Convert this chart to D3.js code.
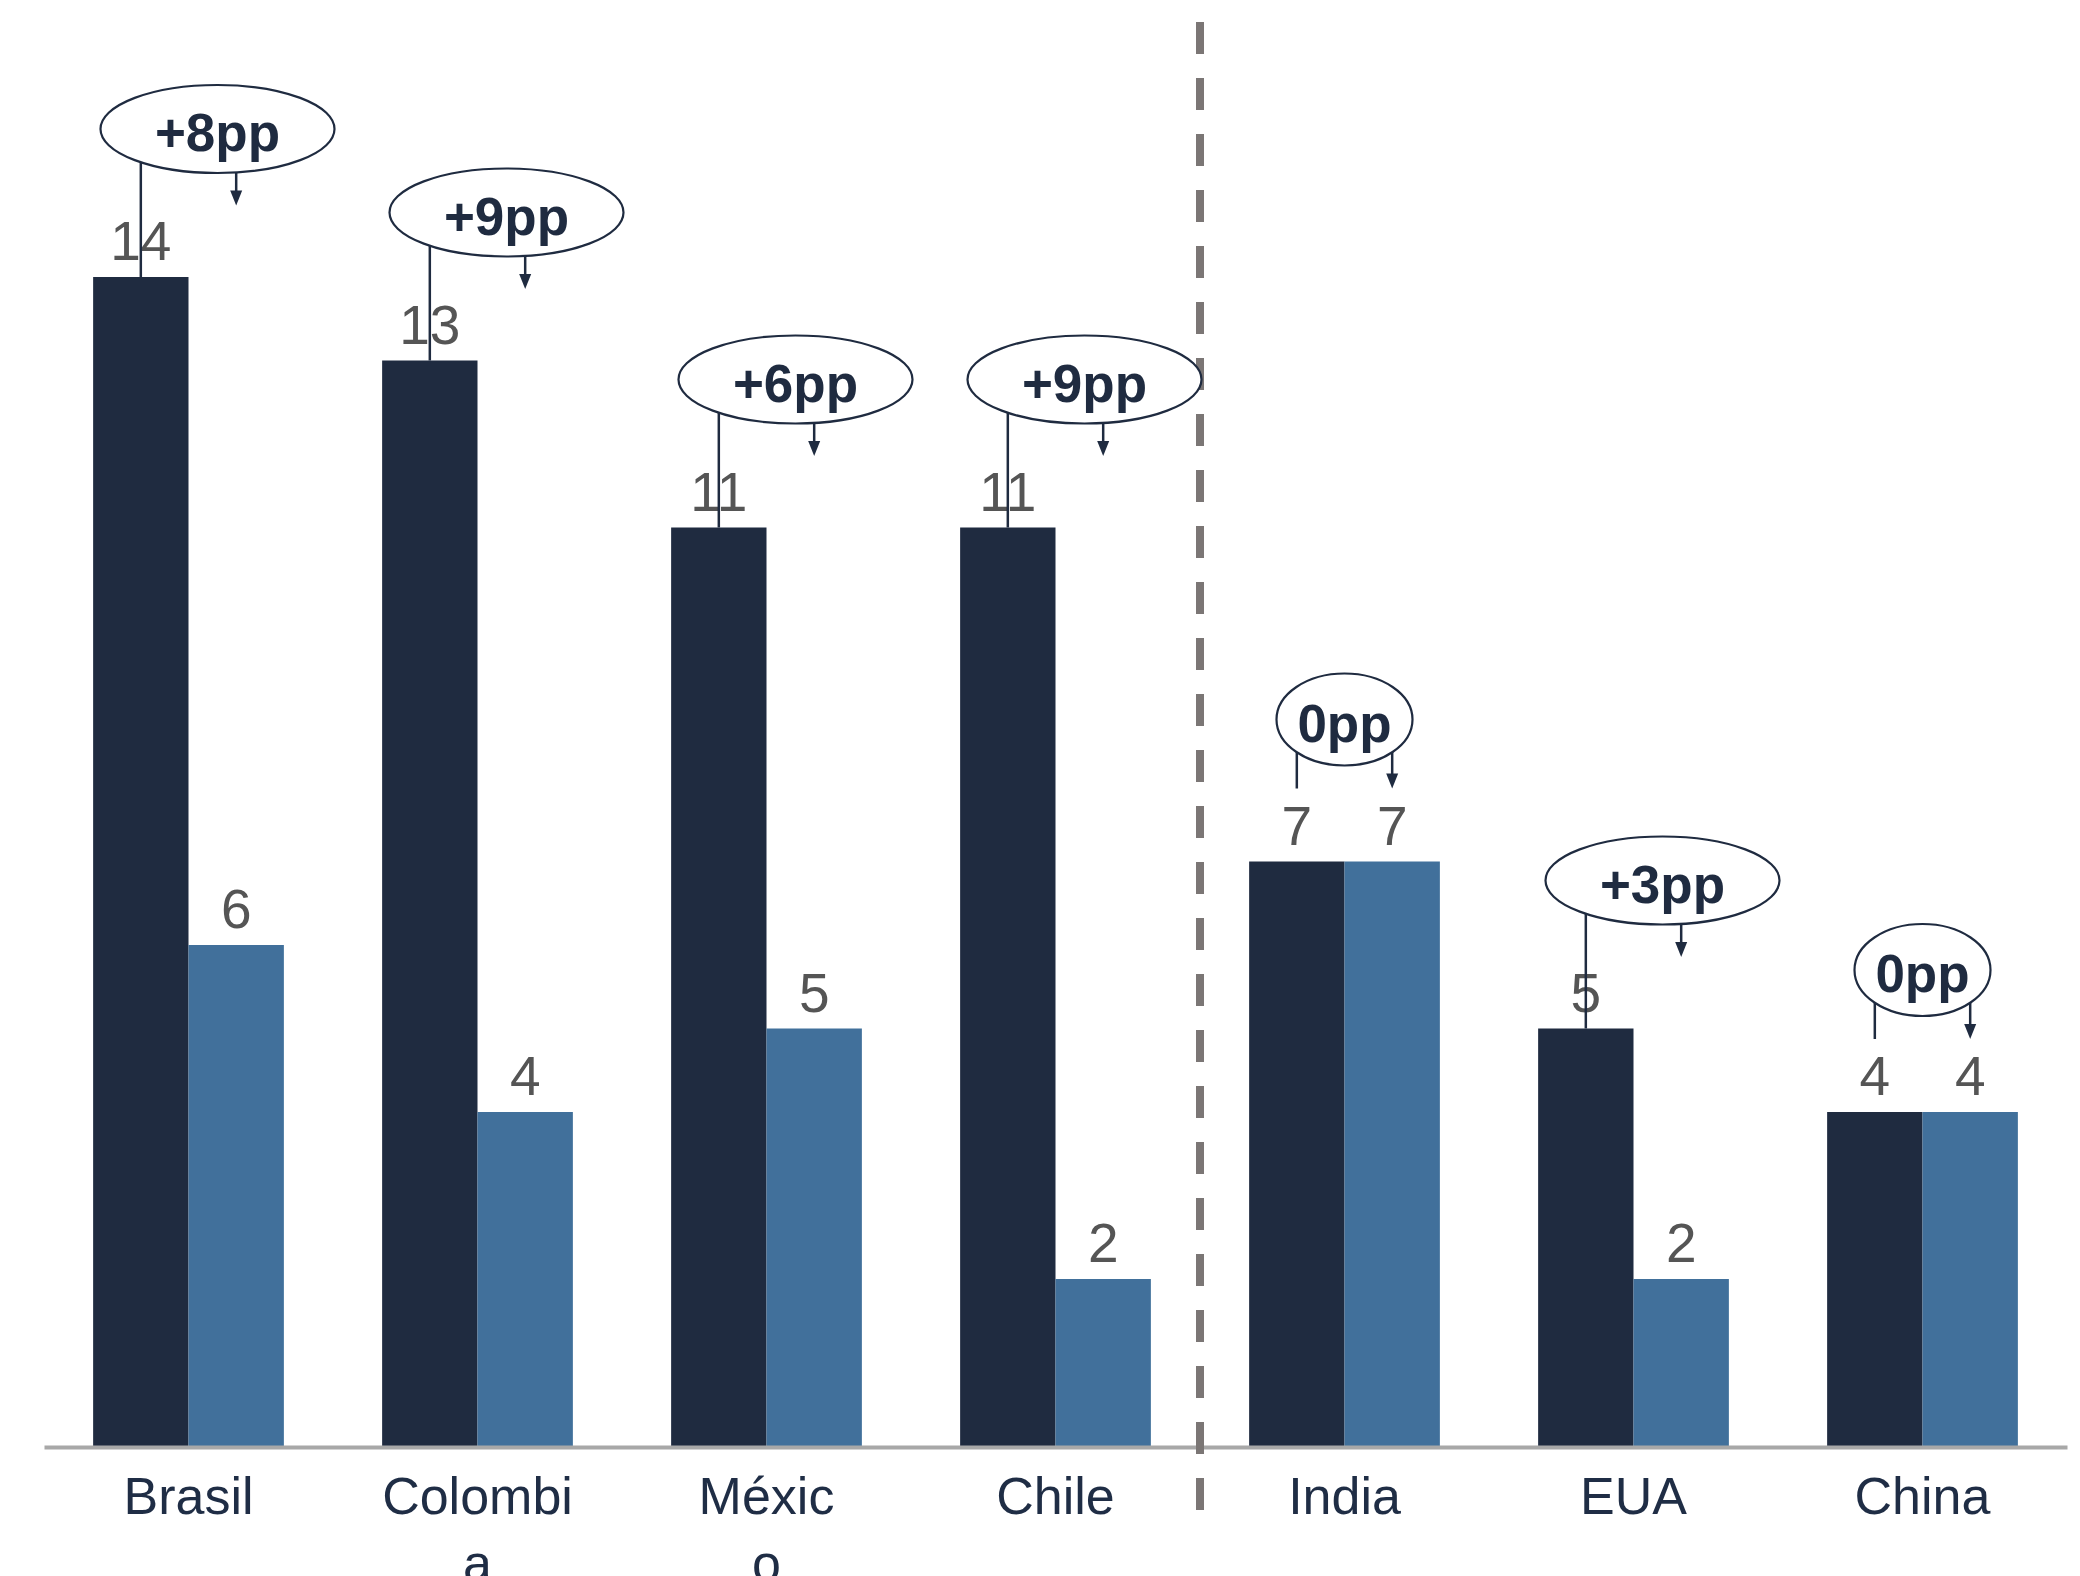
<!DOCTYPE html>
<html>
<head>
<meta charset="utf-8">
<script src="https://cdn.jsdelivr.net/npm/d3@7"></script>
<style>
  html, body { margin: 0; padding: 0; background: #ffffff; }
  svg { display: block; }
  text { font-family: "Liberation Sans", Arial, Helvetica, sans-serif; }
</style>
</head>
<body>
<div id="chart"></div>
<script>
// ---- Data ----
const categories = ["Brasil", "Colombia", "México", "Chile", "India", "EUA", "China"];
const tickLabels = [["Brasil"], ["Colombi", "a"], ["Méxic", "o"], ["Chile"], ["India"], ["EUA"], ["China"]];
const seriesDark = [14, 13, 11, 11, 7, 5, 4];
const seriesLight = [6, 4, 5, 2, 7, 2, 4];
const diffLabels = ["+8pp", "+9pp", "+6pp", "+9pp", "0pp", "+3pp", "0pp"];
const dividerBefore = "India";

// ---- Layout ----
const W = 2080, H = 1576;
const colDark = "#1f2b40", colLight = "#41709b", navy = "#1f2b40";

const svg = d3.select("#chart").append("svg")
  .attr("width", W).attr("height", H).attr("viewBox", `0 0 ${W} ${H}`);

const x = d3.scaleBand().domain(categories).range([44, 2067])
  .paddingInner(0.34).paddingOuter(0.17);
const inner = d3.scaleBand().domain(["dark", "light"]).range([0, x.bandwidth()]);
const y = d3.scaleLinear().domain([0, d3.max(seriesDark)]).range([1446, 277]);

const rows = categories.map((c, i) => ({ c, i, dark: seriesDark[i], light: seriesLight[i], label: diffLabels[i] }));

// Bars
const g = svg.append("g");
rows.forEach(r => {
  [["dark", r.dark, colDark], ["light", r.light, colLight]].forEach(([k, v, col]) => {
    g.append("rect")
      .attr("x", x(r.c) + inner(k))
      .attr("y", y(v))
      .attr("width", inner.bandwidth())
      .attr("height", y(0) - y(v))
      .attr("fill", col);
  });
});

// Value labels
rows.forEach(r => {
  [["dark", r.dark], ["light", r.light]].forEach(([k, v]) => {
    g.append("text")
      .attr("x", x(r.c) + inner(k) + inner.bandwidth() / 2)
      .attr("y", y(v) - 17)
      .attr("text-anchor", "middle")
      .attr("font-size", 55)
      .attr("fill", "#555555")
      .text(v);
  });
});

// Axis
const axis = svg.append("g")
  .attr("transform", `translate(0,${y(0) + 1})`)
  .call(d3.axisBottom(x).tickSize(0).tickSizeOuter(0));
axis.select(".domain").attr("stroke", "#a8a8a8").attr("stroke-width", 4);
axis.selectAll(".tick text").each(function (d) {
  const t = d3.select(this);
  const lines = tickLabels[categories.indexOf(d)];
  t.text(null).attr("y", null).attr("dy", null)
    .attr("font-size", 52).attr("fill", "#1f2d45")
    .attr("font-family", "Liberation Sans, Arial, sans-serif");
  lines.forEach((ln, j) => {
    t.append("tspan").attr("x", 0).attr("y", 67 + j * 67).text(ln);
  });
});

// Dashed divider
const divIdx = categories.indexOf(dividerBefore);
const divX = (x(categories[divIdx - 1]) + x.bandwidth() + x(dividerBefore)) / 2;
svg.append("line")
  .attr("x1", divX).attr("x2", divX)
  .attr("y1", 22).attr("y2", 1510)
  .attr("stroke", "#7b7675").attr("stroke-width", 8)
  .attr("stroke-dasharray", "32 24");

// Annotations
function edgeY(cx, cy, rx, ry, px) {
  const dx = (px - cx) / rx;
  return cy + ry * Math.sqrt(Math.max(0, 1 - dx * dx));
}
function arrow(px, y1, y2) {
  svg.append("line").attr("x1", px).attr("x2", px).attr("y1", y1).attr("y2", y2 - 12)
    .attr("stroke", navy).attr("stroke-width", 2.5);
  svg.append("path")
    .attr("d", `M${px - 6},${y2 - 15}L${px + 6},${y2 - 15}L${px},${y2}Z`)
    .attr("fill", navy);
}
rows.forEach(r => {
  const center = x(r.c) + x.bandwidth() / 2;
  const darkC = x(r.c) + inner("dark") + inner.bandwidth() / 2;
  const lightC = x(r.c) + inner("light") + inner.bandwidth() / 2;
  const diff = r.dark - r.light;
  let cx, cy, rx, ry;
  if (diff !== 0) {
    cx = center + 29; cy = y(r.dark) - 148; rx = 117; ry = 44;
    const e1 = edgeY(cx, cy, rx, ry, darkC);
    svg.append("line").attr("x1", darkC).attr("x2", darkC)
      .attr("y1", e1).attr("y2", y(r.dark))
      .attr("stroke", navy).attr("stroke-width", 2.5);
    const e2 = edgeY(cx, cy, rx, ry, lightC);
    arrow(lightC, e2, e2 + 33);
  } else {
    cx = center; cy = y(r.dark) - 142; rx = 68; ry = 46;
    const e1 = edgeY(cx, cy, rx, ry, darkC);
    svg.append("line").attr("x1", darkC).attr("x2", darkC)
      .attr("y1", e1).attr("y2", y(r.dark) - 73)
      .attr("stroke", navy).attr("stroke-width", 2.5);
    const e2 = edgeY(cx, cy, rx, ry, lightC);
    arrow(lightC, e2, y(r.dark) - 73);
  }
  svg.append("ellipse")
    .attr("cx", cx).attr("cy", cy).attr("rx", rx).attr("ry", ry)
    .attr("fill", "#ffffff").attr("stroke", navy).attr("stroke-width", 2.2);
  svg.append("text")
    .attr("x", cx).attr("y", cy + 22)
    .attr("text-anchor", "middle")
    .attr("font-size", 53).attr("font-weight", "bold")
    .attr("fill", navy)
    .text(r.label);
});
</script>
</body>
</html>
